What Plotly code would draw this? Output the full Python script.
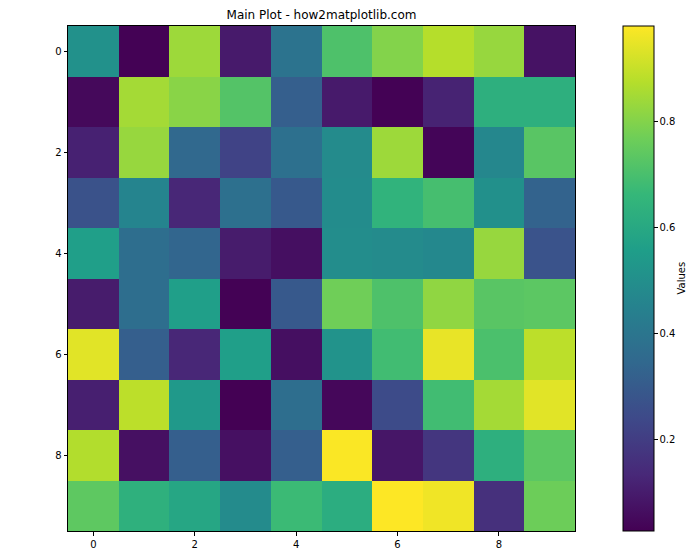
import plotly.graph_objects as go

title_text = "Main Plot - how2matplotlib.com"
colorbar_label = "Values"
x_tick_vals = [0, 2, 4, 6, 8]
y_tick_vals = [0, 2, 4, 6, 8]
cbar_tick_vals = [0.2, 0.4, 0.6, 0.8]

row0 = [0.51, 0.03, 0.84, 0.095, 0.39, 0.71, 0.80, 0.875, 0.83, 0.075]
row1 = [0.05, 0.85, 0.81, 0.72, 0.315, 0.095, 0.03, 0.12, 0.63, 0.63]
row2 = [0.115, 0.83, 0.35, 0.22, 0.38, 0.485, 0.84, 0.04, 0.47, 0.73]
row3 = [0.27, 0.46, 0.13, 0.38, 0.295, 0.49, 0.645, 0.695, 0.505, 0.33]
row4 = [0.56, 0.37, 0.34, 0.10, 0.065, 0.495, 0.485, 0.475, 0.83, 0.275]
row5 = [0.10, 0.37, 0.56, 0.03, 0.295, 0.77, 0.71, 0.82, 0.73, 0.735]
row6 = [0.94, 0.315, 0.13, 0.56, 0.065, 0.515, 0.685, 0.95, 0.705, 0.886]
row7 = [0.11, 0.886, 0.54, 0.028, 0.37, 0.045, 0.245, 0.685, 0.85, 0.94]
row8 = [0.87, 0.07, 0.315, 0.07, 0.315, 0.976, 0.085, 0.18, 0.63, 0.735]
row9 = [0.74, 0.635, 0.59, 0.485, 0.675, 0.62, 0.981, 0.962, 0.16, 0.765]

z = [row0, row1, row2, row3, row4, row5, row6, row7, row8, row9]

# page body has an 8px default margin; work in figure coordinates
OFF = 8
W, H = 700 - OFF, 560 - OFF
L, R, T, B = 68 - OFF, 575 - OFF, 26 - OFF, 531 - OFF
plot_w = R - L
CB_LEFT = 623 - OFF
LABEL_X = 681 - OFF

fig = go.Figure(
    go.Heatmap(
        z=z,
        colorscale="Viridis",
        colorbar=dict(
            x=(CB_LEFT - L) / plot_w,
            xanchor="left",
            xpad=0,
            ypad=0,
            y=0.5,
            yanchor="middle",
            len=1,
            lenmode="fraction",
            thickness=31,
            thicknessmode="pixels",
            outlinewidth=1,
            outlinecolor="black",
            ticks="outside",
            ticklen=3.5,
            tickwidth=1,
            tickcolor="black",
            tickvals=cbar_tick_vals,
            tickfont=dict(family="DejaVu Sans", size=10, color="black"),
        ),
        hoverongaps=False,
    )
)

fig.add_annotation(
    text=colorbar_label,
    xref="paper",
    yref="paper",
    x=(LABEL_X - L) / plot_w,
    y=0.5,
    xanchor="center",
    yanchor="middle",
    textangle=-90,
    showarrow=False,
    font=dict(family="DejaVu Sans", size=10, color="black"),
)

fig.update_layout(
    width=W,
    height=H,
    margin=dict(l=L, r=W - R, t=T, b=H - B, autoexpand=False),
    paper_bgcolor="white",
    plot_bgcolor="white",
    title=dict(
        text=title_text,
        x=(L + R) / 2 / W,
        xanchor="center",
        xref="container",
        y=1 - (15 - OFF) / H,
        yanchor="middle",
        yref="container",
        font=dict(family="DejaVu Sans", size=12, color="black"),
    ),
    xaxis=dict(
        range=[-0.5, 9.5],
        tickvals=x_tick_vals,
        ticks="outside",
        ticklen=3.5,
        tickwidth=1,
        tickcolor="black",
        showline=True,
        linecolor="black",
        linewidth=1,
        mirror=True,
        showgrid=False,
        zeroline=False,
        tickfont=dict(family="DejaVu Sans", size=10, color="black"),
    ),
    yaxis=dict(
        range=[9.5, -0.5],
        tickvals=y_tick_vals,
        ticks="outside",
        ticklen=3.5,
        tickwidth=1,
        tickcolor="black",
        showline=True,
        linecolor="black",
        linewidth=1,
        mirror=True,
        showgrid=False,
        zeroline=False,
        tickfont=dict(family="DejaVu Sans", size=10, color="black"),
    ),
)

fig.write_html("out.html")
